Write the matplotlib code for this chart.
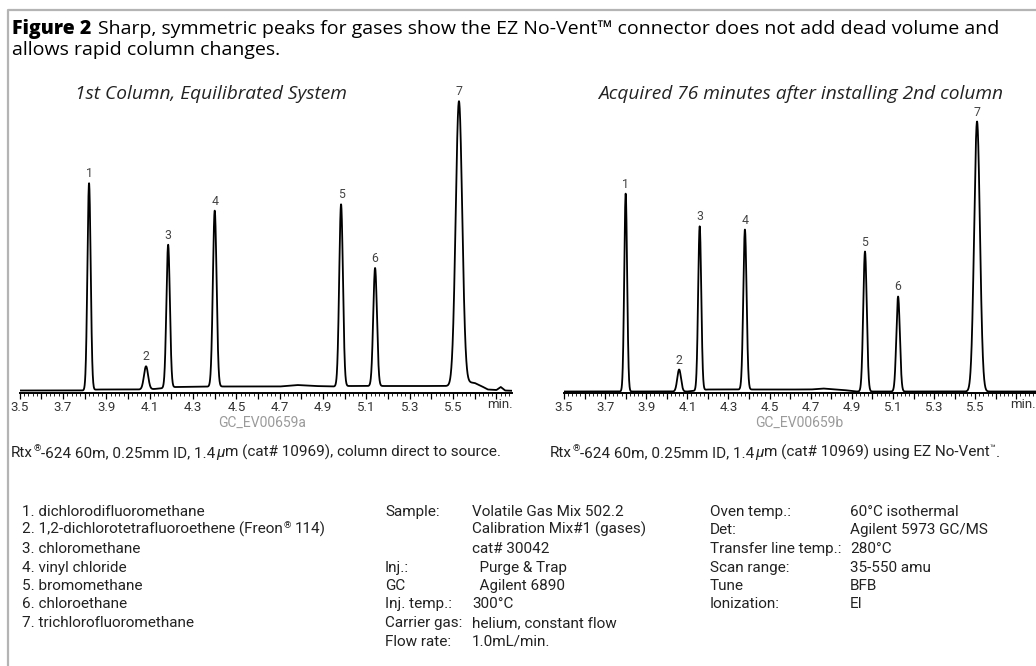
import numpy as np
import matplotlib.pyplot as plt
from matplotlib.ticker import MultipleLocator, FuncFormatter

W, H = 1036, 666
NARROW = ["Roboto", "DejaVu Sans"]
HUMAN = ["Open Sans", "DejaVu Sans"]

# peak table (time in min, height above baseline)
peakNo = [1, 2, 3, 4, 5, 6, 7]
rtA = [3.820, 4.083, 4.185, 4.400, 4.983, 5.140, 5.527]
htA = [207, 23, 143, 176, 182, 118, 283]
sdA = [0.0075, 0.0095, 0.0080, 0.0085, 0.0085, 0.0085, 0.0150]
rtB = [3.800, 4.060, 4.160, 4.380, 4.964, 5.125, 5.509]
htB = [198, 22, 164, 160, 140, 95, 270]
sdB = [0.0070, 0.0090, 0.0075, 0.0080, 0.0085, 0.0085, 0.0140]

# baseline drift points (time, level)
baseTA = [3.50, 3.80, 3.86, 4.05, 4.12, 4.22, 4.43, 4.70, 4.78, 4.86, 4.95, 5.02, 5.50, 5.56, 5.60, 5.63, 5.66, 5.70, 5.72, 5.74, 5.80]
baseYA = [2.5, 2.5, 3.5, 3.5, 4.0, 6.0, 6.5, 6.5, 8.0, 7.0, 6.5, 7.0, 7.0, 11.0, 10.0, 7.0, 3.5, 3.0, 6.0, 2.5, 2.0]
baseTB = [3.50, 3.85, 4.10, 4.20, 4.40, 4.70, 4.76, 4.86, 4.92, 5.90]
baseYB = [1.5, 1.5, 1.5, 3.5, 3.5, 3.5, 4.5, 3.0, 1.5, 1.5]

titleBold = "Figure 2"
titleRest1 = "Sharp, symmetric peaks for gases show the EZ No-Vent\u2122 connector does not add dead volume and"
titleRest2 = "allows rapid column changes."
subA = "1st Column, Equilibrated System"
subB = "Acquired 76 minutes after installing 2nd column"
codeA = "GC_EV00659a"
codeB = "GC_EV00659b"

compounds = [
    "1. dichlorodifluoromethane",
    "2. 1,2-dichlorotetrafluoroethene (Freon\u00ae 114)",
    "3. chloromethane",
    "4. vinyl chloride",
    "5. bromomethane",
    "6. chloroethane",
    "7. trichlorofluoromethane",
]
condKeys = ["Sample:", "", "", "Inj.:", "GC", "Inj. temp.:", "Carrier gas:", "Flow rate:"]
condVals = ["Volatile Gas Mix 502.2", "Calibration Mix#1 (gases)", "cat# 30042",
            "  Purge & Trap", "  Agilent 6890", "300\u00b0C", "helium, constant flow", "1.0mL/min."]
msKeys = ["Oven temp.:", "Det:", "Transfer line temp.:", "Scan range:", "Tune", "Ionization:"]
msVals = ["60\u00b0C isothermal", "Agilent 5973 GC/MS", "280\u00b0C", "35-550 amu", "BFB", "EI"]

BODY = 11


def rich(ax, x, y, parts, size, color="#222222", family=NARROW):
    prev = None
    for txt, style, gap in parts:
        kw = dict(fontsize=size, color=color, family=family, va="baseline", ha="left")
        dy = 0
        if style == "sup":
            kw["fontsize"] = size * 0.62
            dy = size * 0.40
        elif style == "it":
            kw["style"] = "italic"
        elif style == "bold":
            kw["weight"] = "heavy"
        if prev is None:
            prev = ax.text(x, y, txt, **kw)
        else:
            prev = ax.annotate(txt, xy=(1, y), xycoords=(prev, "data"),
                               xytext=(gap, dy), textcoords="offset points", **kw)
    return prev


def chrom(rect, xmax, rt, ht, sd, bT, bY, minPx):
    ax = fig.add_axes(rect)
    t = np.linspace(3.5, xmax, 4000)
    sig = np.interp(t, bT, bY)
    for r, h, s in zip(rt, ht, sd):
        sig = sig + h * np.exp(-0.5 * ((t - r) / s) ** 2)
    ax.plot(t, sig, color="black", lw=1.3, solid_joinstyle="round")
    for n, r, h in zip(peakNo, rt, ht):
        ax.text(r, h + np.interp(r, bT, bY) + 3, str(n), ha="center", va="bottom",
                fontsize=8.8, color="#444444", family=NARROW)
    ax.set_xlim(3.5, xmax)
    ax.set_ylim(0, 313)
    for s in ["left", "right", "top"]:
        ax.spines[s].set_visible(False)
    ax.spines["bottom"].set_linewidth(1.4)
    ax.set_yticks([])
    ax.patch.set_visible(False)
    ax.xaxis.set_major_locator(MultipleLocator(0.1))
    ax.xaxis.set_minor_locator(MultipleLocator(0.02))
    ax.xaxis.set_major_formatter(FuncFormatter(
        lambda v, p: f"{v:.1f}" if (round(v * 10) % 2 == 1 and v < 5.6) else ""))
    ax.tick_params(axis="x", which="major", direction="out", length=4, width=0.9,
                   pad=2, labelsize=9.5, labelcolor="#333333")
    ax.tick_params(axis="x", which="minor", direction="out", length=2, width=0.6)
    for lab in ax.get_xticklabels():
        lab.set_family(NARROW)
    bg.text(minPx, 405, "min.", ha="center", va="center", fontsize=9.5,
            color="#333333", family=NARROW)
    return ax


fig = plt.figure(figsize=(W / 100, H / 100), dpi=100)
bg = fig.add_axes([0, 0, 1, 1])
bg.set_xlim(0, W)
bg.set_ylim(H, 0)
bg.axis("off")

# grey frame of the figure box
bg.plot([8, 8, W + 5], [H + 5, 10, 10], color="#b4b4b4", lw=1.6, solid_capstyle="butt")

# title
rich(bg, 12, 34, [(titleBold, "bold", 0), (titleRest1, "", 5)], 14, color="black", family=HUMAN)
bg.text(12, 55, titleRest2, fontsize=14, color="black", family=HUMAN, va="baseline")

# subtitles
bg.text(211, 99, subA, fontsize=13.8, style="italic", color="#222222", family=HUMAN,
        va="baseline", ha="center")
bg.text(801, 99, subB, fontsize=13.8, style="italic", color="#222222", family=HUMAN,
        va="baseline", ha="center")

# chromatograms
pxA = 216.7
pxB = 205.6
xmaxA = 5.77
xmaxB = 5.85
axA = chrom([19.7 / W, (H - 393) / H, (xmaxA - 3.5) * pxA / W, 313 / H], xmaxA,
            rtA, htA, sdA, baseTA, baseYA, 500)
axB = chrom([564 / W, (H - 393) / H, (xmaxB - 3.5) * pxB / W, 313 / H], xmaxB,
            rtB, htB, sdB, baseTB, baseYB, 1023)
axA.get_xticklabels()[0].set_horizontalalignment("right")

bg.text(262, 423, codeA, fontsize=10, color="#9a9a9a", family=NARROW, ha="center", va="center")
bg.text(799, 423, codeB, fontsize=10, color="#9a9a9a", family=NARROW, ha="center", va="center")

# captions under each chromatogram
rich(bg, 11, 457, [("Rtx", "", 0), ("\u00ae", "sup", 0.3), ("-624 60m, 0.25mm ID, 1.4", "", 0.3),
                   ("\u03bc", "it", 0.3), ("m (cat# 10969), column direct to source.", "", 0.2)], BODY)
rich(bg, 550, 457, [("Rtx", "", 0), ("\u00ae", "sup", 0.3), ("-624 60m, 0.25mm ID, 1.4", "", 0.3),
                    ("\u03bc", "it", 0.3), ("m (cat# 10969) using EZ No-Vent", "", 0.2),
                    ("\u2122", "sup", 0.3), (".", "", 0.3)], BODY)

# compound list and conditions
y0 = 516
dy = 18.5
for i, c in enumerate(compounds):
    yy = round(y0 + i * dy)
    if "\u00ae" in c:
        a, b = c.split("\u00ae")
        rich(bg, 22, yy, [(a, "", 0), ("\u00ae", "sup", 0.3), (b.strip(), "", 2.8)], BODY)
    else:
        bg.text(22, yy, c, fontsize=BODY, color="#222222", family=NARROW, va="baseline")
for i, (k, v) in enumerate(zip(condKeys, condVals)):
    yy = round(y0 + i * dy)
    bg.text(385, yy, k, fontsize=BODY, color="#222222", family=NARROW, va="baseline")
    bg.text(472, yy, v, fontsize=BODY, color="#222222", family=NARROW, va="baseline")
for i, (k, v) in enumerate(zip(msKeys, msVals)):
    yy = round(y0 + i * dy)
    bg.text(710, yy, k, fontsize=BODY, color="#222222", family=NARROW, va="baseline")
    bg.text(850, yy, v, fontsize=BODY, color="#222222", family=NARROW, va="baseline")

fig.savefig("out.png", dpi=100)
